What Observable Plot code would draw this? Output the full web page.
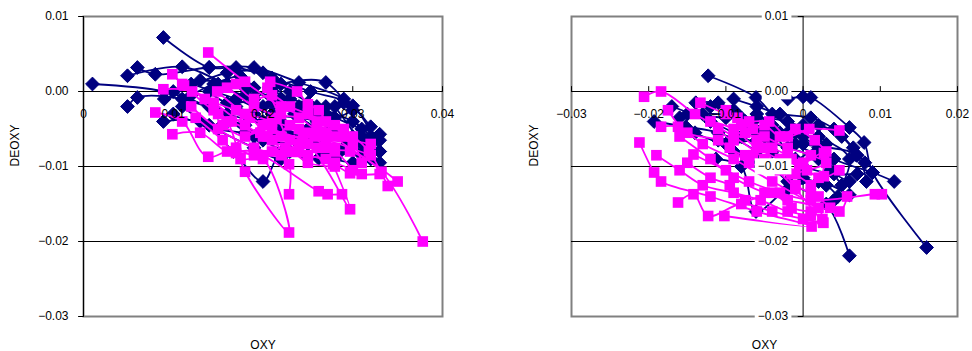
<!DOCTYPE html>
<html><head><meta charset="utf-8">
<script src="https://cdn.jsdelivr.net/npm/d3@7"></script>
<script src="https://cdn.jsdelivr.net/npm/@observablehq/plot@0.6"></script>
<style>body{margin:0;background:#fff}#wrap{display:flex;width:972px;height:351px}</style>
</head><body><div id="wrap"></div>
<script>
// ---- tick values / labels ----
const yTicks = [0.01, 0, -0.01, -0.02, -0.03];
const yTickLabels = ["0.01", "0.00", "\u22120.01", "\u22120.02", "\u22120.03"];
const leftXTicks = [0, 0.01, 0.02, 0.03, 0.04];
const leftXTickLabels = ["0", "0.01", "0.02", "0.03", "0.04"];
const rightXTicks = [-0.03, -0.02, -0.01, 0, 0.01, 0.02];
const rightXTickLabels = ["\u22120.03", "\u22120.02", "\u22120.01", "0", "0.01", "0.02"];

// ---- left panel: navy (diamond) trajectories, [OXY, DEOXY] ----
const leftNavy = [
 [[.001,.001],[.009,.000],[.014,-.002],[.020,-.004],[.025,-.006],[.030,-.007],[.033,-.0095]],
 [[.0049,.0021],[.011,.0033],[.016,.001],[.022,-.001],[.027,-.003],[.031,-.005],[.033,-.0057]],
 [[.006,.0032],[.008,.0023],[.014,.0032],[.019,.0032],[.024,.0012],[.029,-.001],[.032,-.0047]],
 [[.0089,.0072],[.014,.0032],[.017,.0032],[.021,.0018],[.0253,0],[.030,-.0019],[.033,-.008]],
 [[.0049,-.002],[.006,-.0008],[.011,-.001],[.016,-.003],[.022,-.005],[.0286,-.008],[.033,-.008]],
 [[.0089,-.004],[.013,-.004],[.0167,-.008],[.020,-.012],[.022,-.0082],[.025,-.0089],[.0262,-.0089]],
 [[.010,.000],[.015,-.0028],[.019,-.006],[.024,-.007],[.0309,-.0068],[.027,.0012],[.022,.001]],
 [[.012,.001],[.017,-.001],[.021,-.003],[.026,-.004],[.029,-.006],[.032,-.009],[.028,-.002]],
 [[.010,-.003],[.015,-.005],[.018,-.0055],[.023,-.006],[.027,-.008],[.031,-.0085]],
 [[.013,.0015],[.018,.0005],[.020,-.002],[.024,-.0025],[.028,-.005],[.031,-.006],[.029,-.0015]],
 [[.009,-.001],[.016,.0025],[.020,.0025],[.023,.000],[.026,-.002],[.030,-.004],[.032,-.006]],
 [[.011,-.002],[.014,-.0045],[.019,-.0075],[.022,-.009],[.026,-.0065],[.029,-.0075],[.033,-.0065]],
 [[.015,.001],[.018,-.0005],[.021,.000],[.024,-.002],[.026,-.003],[.028,-.0035],[.030,-.0025]],
 [[.017,-.002],[.019,-.003],[.022,-.004],[.025,-.005],[.027,-.0055],[.030,-.006],[.0315,-.0075]],
 [[.014,.000],[.016,-.0015],[.019,-.001],[.021,.0005],[.023,-.001],[.025,-.0015],[.027,-.002]],
 [[.016,-.004],[.018,-.0045],[.020,-.0065],[.023,-.008],[.025,-.007],[.028,-.009],[.030,-.0095]],
 [[.012,-.0005],[.0145,.001],[.0175,.002],[.019,.0005],[.021,-.0015],[.0235,-.003],[.026,-.005]]
];
// ---- left panel: magenta (square) trajectories ----
const leftMagenta = [
 [[.0139,.0052],[.018,.0013],[.022,-.002],[.026,-.004],[.030,-.006],[.0318,-.008],[.0339,-.0126]],
 [[.0099,.0023],[.0112,.0008],[.015,-.003],[.020,-.006],[.024,-.008],[.0297,-.008],[.035,-.012]],
 [[.0089,.0003],[.0121,0],[.016,-.004],[.018,-.0107],[.0229,-.0188],[.020,-.009],[.017,-.0082]],
 [[.008,-.0028],[.011,-.004],[.0139,-.0087],[.0197,-.0055],[.0229,-.0097],[.0229,-.0137]],
 [[.0099,-.0057],[.013,-.0055],[.016,-.008],[.019,-.008],[.0262,-.0133],[.0272,-.0137],[.0288,-.0137]],
 [[.0149,0],[.018,-.003],[.021,-.005],[.025,-.007],[.0297,-.0157],[.0278,-.0097]],
 [[.0208,.0013],[.0238,0],[.025,-.0017],[.0262,-.0025],[.028,-.006],[.0332,-.0107],[.0378,-.02]],
 [[.012,-.002],[.015,-.005],[.019,-.0075],[.022,-.0085],[.027,-.009],[.0297,-.0109],[.033,-.011]],
 [[.0135,-.001],[.017,-.0025],[.021,-.004],[.024,-.005],[.027,-.0055],[.030,-.007],[.031,-.0095]],
 [[.016,.0005],[.019,-.002],[.0215,-.0035],[.023,-.0065],[.026,-.0075],[.028,-.008],[.030,-.0105]],
 [[.0125,-.0035],[.0155,-.0065],[.0175,-.009],[.020,-.0085],[.0225,-.0075],[.025,-.0095],[.028,-.010]],
 [[.011,.001],[.0145,-.0015],[.018,-.0045],[.0205,-.006],[.0245,-.006],[.027,-.0065],[.032,-.0085]],
 [[.017,.001],[.019,-.001],[.021,-.0005],[.023,-.002],[.025,-.003],[.027,-.004],[.029,-.005]],
 [[.0155,-.0045],[.018,-.006],[.020,-.0045],[.022,-.006],[.024,-.007],[.026,-.006],[.028,-.0075]],
 [[.017,-.0075],[.019,-.0085],[.021,-.008],[.023,-.008],[.025,-.0085],[.028,-.0095],[.031,-.011]],
 [[.0205,.0005],[.022,-.003],[.024,-.0035],[.026,-.005],[.028,-.0045],[.029,-.006],[.032,-.007]],
 [[.0145,-.0025],[.0165,-.004],[.0185,-.0035],[.021,-.0065],[.023,-.0045],[.025,-.0055],[.027,-.0075]]
];
// ---- right panel: navy trajectories ----
const rightNavy = [
 [[-.0123,.0021],[-.0061,-.0008],[-.004,-.003],[.000,-.006],[.004,-.009],[.009,-.0108],[.0118,-.012]],
 [[-.002,-.001],[.000,-.0007],[.001,-.0008],[.006,-.0048],[.0079,-.0068],[.009,-.0108],[.016,-.0208]],
 [[-.0193,-.004],[-.0152,-.0047],[-.011,-.0055],[-.006,-.008],[-.002,-.012],[.003,-.015],[.006,-.0219]],
 [[-.0139,-.0015],[-.011,-.0015],[-.0087,-.0028],[-.005,-.005],[.000,-.007],[.0069,-.0085],[.0082,-.012]],
 [[-.015,-.003],[-.010,-.0035],[-.006,-.0035],[-.002,-.004],[.002,-.006],[.006,-.009],[.0039,-.0146]],
 [[-.0113,-.009],[-.008,-.010],[-.0061,-.016],[-.002,-.013],[.002,-.012],[.006,-.0138]],
 [[-.017,-.002],[-.012,-.004],[-.008,-.006],[-.004,-.008],[.000,-.010],[.004,-.011],[.007,-.011]],
 [[-.009,-.001],[-.006,-.002],[-.003,-.003],[.001,-.0035],[.004,-.005],[.0065,-.0075],[.008,-.0095]],
 [[-.014,-.0055],[-.010,-.007],[-.006,-.0065],[-.002,-.0075],[.002,-.009],[.005,-.0125]],
 [[-.0075,-.004],[-.004,-.0055],[-.001,-.009],[.002,-.0075],[.0035,-.0105],[.006,-.012]],
 [[-.012,-.002],[-.009,-.0025],[-.007,-.0045],[-.005,-.006],[-.003,-.0055],[-.001,-.007],[.002,-.0085]],
 [[-.016,-.0035],[-.013,-.003],[-.008,-.0035],[-.006,-.0055],[-.004,-.0065],[-.001,-.0055],[.003,-.007]],
 [[-.006,-.003],[-.004,-.0045],[-.002,-.0055],[.000,-.0045],[.002,-.0045],[.005,-.006],[.007,-.0085]],
 [[-.011,-.0065],[-.009,-.008],[-.006,-.0095],[-.003,-.0095],[.000,-.0115],[.003,-.0125],[.0045,-.014]]
];
// ---- right panel: magenta trajectories ----
const rightMagenta = [
 [[-.0206,-.0007],[-.0184,0],[-.014,-.003],[-.009,-.006],[-.005,-.009],[-.001,-.013],[.0026,-.0175]],
 [[-.0212,-.0068],[-.0193,-.0108],[-.0184,-.012],[-.012,-.014],[-.006,-.016],[.0011,-.018],[-.0102,-.0166]],
 [[-.0184,-.0047],[-.0162,-.0047],[-.013,-.007],[-.009,-.009],[-.004,-.012],[.0047,-.016],[.0057,-.014]],
 [[-.0162,-.0148],[-.0142,-.0137],[-.0123,-.0166],[-.008,-.015],[-.004,-.016],[.000,-.017],[.0026,-.0175]],
 [[-.0133,-.0015],[-.010,-.003],[-.007,-.004],[-.0044,-.004],[-.002,-.006],[.0008,-.005],[.0047,-.0052]],
 [[-.0142,-.0084],[-.010,-.0105],[-.007,-.012],[-.003,-.0135],[.001,-.0145],[.0093,-.0137],[.0102,-.0137]],
 [[-.012,-.004],[-.009,-.005],[-.006,-.0075],[-.0005,-.0097],[.0027,-.0082],[.0027,-.0113],[.0047,-.0105]],
 [[-.016,-.006],[-.012,-.009],[-.009,-.0115],[-.005,-.0135],[-.002,-.0145],[.002,-.0155],[.0025,-.017]],
 [[-.010,-.0025],[-.008,-.0045],[-.005,-.006],[-.002,-.0075],[.001,-.0085],[.003,-.0095],[-.0015,-.011]],
 [[-.0175,-.0025],[-.015,-.0055],[-.011,-.0065],[-.007,-.0095],[-.003,-.0105],[-.001,-.0125],[.001,-.0135]],
 [[-.019,-.0085],[-.016,-.0105],[-.013,-.0125],[-.009,-.0135],[-.0055,-.0145],[-.002,-.016],[.001,-.0165]],
 [[-.011,-.005],[-.009,-.0065],[-.0075,-.0055],[-.006,-.0065],[-.004,-.0075],[-.002,-.0085],[.000,-.0095]],
 [[-.0085,-.0035],[-.0065,-.005],[-.005,-.0045],[-.003,-.006],[-.001,-.005],[.0015,-.0065],[.003,-.008]],
 [[-.0065,-.0085],[-.005,-.01],[-.003,-.009],[-.001,-.011],[.001,-.0125],[.002,-.014],[.0035,-.0155]],
 [[-.015,-.0095],[-.012,-.0115],[-.0095,-.0125],[-.0075,-.0145],[-.004,-.0135],[-.0015,-.0155],[.001,-.016]],
 [[-.0095,-.0075],[-.0075,-.0085],[-.005,-.0075],[-.0035,-.01],[-.0015,-.009],[.0005,-.0105],[.002,-.0115]]
];

const NAVY = "#000080", MAGENTA = "#ff00ff";
const flat = (trajs) => trajs.flatMap((t, i) => t.map(([x, y]) => ({x, y, t: i})));
const lineShape = {draw(ctx, l) { ctx.moveTo(0, 0); ctx.lineTo(0, -l); }};

function panel({xDomain, xTicks, xLabels, navy, magenta, mLeft, mRight, yLabelDx, titleDx, boxed}) {
  const yGrid = yTicks.filter(v => v > -0.03 && v < 0.01);
  const yl = yTicks.map((v, i) => ({v, s: yTickLabels[i]}));
  const xl = xTicks.map((v, i) => ({v, s: xLabels[i]}));
  const N = flat(navy), M = flat(magenta);
  return Plot.plot({
    width: 486, height: 351,
    marginLeft: mLeft, marginRight: mRight, marginTop: 16, marginBottom: 35,
    x: {domain: xDomain, axis: null},
    y: {domain: [-0.03, 0.01], axis: null},
    style: {fontFamily: "'Liberation Sans', Arial, sans-serif", fontSize: "12px", color: "#000", background: "#fff", overflow: "visible"},
    marks: [
      Plot.frame({stroke: "#808080", strokeWidth: 2}),
      Plot.ruleY(yGrid, {stroke: "#000", strokeWidth: 1}),
      Plot.ruleX([0], {stroke: "#000", strokeWidth: 1}),
      Plot.vector(xTicks, {x: d => d, y: 0, length: 5, anchor: "start", shape: lineShape, stroke: "#000", strokeWidth: 1}),
      Plot.vector(yTicks, {x: 0, y: d => d, length: 5, rotate: 270, anchor: "start", shape: lineShape, stroke: "#000", strokeWidth: 1}),
      Plot.line(N, {x: "x", y: "y", z: "t", stroke: NAVY, strokeWidth: 1.8, curve: "catmull-rom"}),
      Plot.dot(N, {x: "x", y: "y", symbol: "diamond2", r: 6.2, fill: NAVY, stroke: NAVY, strokeWidth: 1}),
      Plot.line(M, {x: "x", y: "y", z: "t", stroke: MAGENTA, strokeWidth: 1.8, curve: "catmull-rom"}),
      Plot.dot(M, {x: "x", y: "y", symbol: "square", r: 6, fill: MAGENTA}),
      Plot.text(xl, {x: "v", y: 0, text: "s", dy: 23, textAnchor: "middle", lineAnchor: "middle", fill: "#000"}),
      Plot.text(yl, {x: xDomain[0] < 0 ? 0 : xDomain[0], y: "v", text: "s", dx: yLabelDx, textAnchor: "end", lineAnchor: "middle", fill: "#000", className: boxed ? "boxed" : undefined}),
      Plot.text(["OXY"], {frameAnchor: "bottom", dy: 29, lineAnchor: "middle", text: d => d, fill: "#000"}),
      Plot.text(["DEOXY"], {frameAnchor: "left", dx: titleDx, rotate: -90, lineAnchor: "middle", text: d => d, fill: "#000"})
    ]
  });
}

const wrap = document.getElementById("wrap");
wrap.append(panel({xDomain: [0, 0.04], xTicks: leftXTicks, xLabels: leftXTickLabels, navy: leftNavy, magenta: leftMagenta,
  mLeft: 83, mRight: 44, yLabelDx: -15, titleDx: -68, boxed: false}));
wrap.append(panel({xDomain: [-0.03, 0.02], xTicks: rightXTicks, xLabels: rightXTickLabels, navy: rightNavy, magenta: rightMagenta,
  mLeft: 85, mRight: 15, yLabelDx: -15, titleDx: -37, boxed: true}));

// white boxes behind the right panel's y tick labels
document.querySelectorAll("g.boxed text").forEach(t => {
  const b = t.getBBox();
  const r = document.createElementNS("http://www.w3.org/2000/svg", "rect");
  r.setAttribute("x", b.x - 3); r.setAttribute("y", b.y - 1);
  r.setAttribute("width", b.width + 6); r.setAttribute("height", b.height + 2);
  r.setAttribute("fill", "#fff");
  if (t.getAttribute("transform")) r.setAttribute("transform", t.getAttribute("transform"));
  t.parentNode.insertBefore(r, t);
});
</script></body></html>
